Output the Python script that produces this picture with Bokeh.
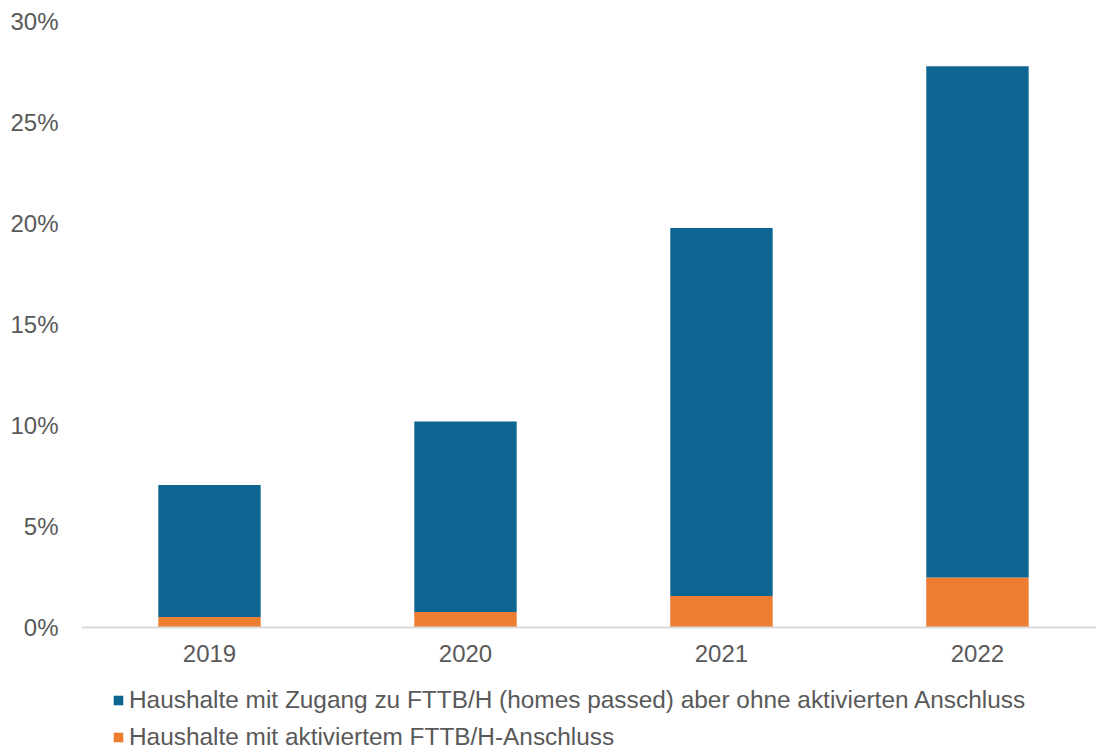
from bokeh.plotting import figure
from bokeh.models import (ColumnDataSource, Range1d, FixedTicker, PrintfTickFormatter,
                          Legend, LegendItem)
from bokeh.embed import file_html
from bokeh.resources import INLINE

years = ["2019", "2020", "2021", "2022"]
activated = [0.52, 0.77, 1.56, 2.48]          # Haushalte mit aktiviertem FTTB/H-Anschluss (%)
passed_only = [6.53, 9.43, 18.22, 25.30]      # homes passed ohne aktivierten Anschluss (%)
y_ticks = [0, 5, 10, 15, 20, 25, 30]
label_passed = "Haushalte mit Zugang zu FTTB/H (homes passed) aber ohne aktivierten Anschluss"
label_active = "Haushalte mit aktiviertem FTTB/H-Anschluss"

BLUE = "#0F6592"
ORANGE = "#ED7D31"
TXT = "#595959"
FONT = "Liberation Sans"
FS = "24px"

xpos = [i + 0.5 for i in range(len(years))]
src = ColumnDataSource(dict(x=xpos, year=years, activated=activated, passed=passed_only))

# frame reaches the bottom of the canvas; the space under 0 % holds the axis labels and the legend
p = figure(width=1096, height=753, output_backend="svg", toolbar_location=None,
           x_range=Range1d(0, 3.965), y_range=Range1d(-6.238, 30),
           min_border_left=81, min_border_right=0, min_border_top=21, min_border_bottom=0)
p.outline_line_color = None
p.background_fill_color = "white"
p.border_fill_color = "white"

r = p.vbar_stack(["activated", "passed"], x="x", width=0.4, source=src,
                 color=[ORANGE, BLUE], line_color=None)

p.xgrid.visible = False
p.ygrid.visible = False

# y axis
p.yaxis.ticker = FixedTicker(ticks=y_ticks)
p.yaxis.formatter = PrintfTickFormatter(format="%d%%")
p.yaxis.axis_line_color = None
p.yaxis.major_tick_line_color = None
p.yaxis.minor_tick_line_color = None
p.yaxis.major_tick_out = 0
p.yaxis.major_label_standoff = 23
p.yaxis.major_label_text_font = FONT
p.yaxis.major_label_text_font_size = FS
p.yaxis.major_label_text_color = TXT

# x axis, pinned at 0 %
p.xaxis.fixed_location = 0
p.xaxis.ticker = FixedTicker(ticks=xpos)
p.xaxis.major_label_overrides = {x: y for x, y in zip(xpos, years)}
p.xaxis.axis_line_color = "#D9D9D9"
p.xaxis.axis_line_width = 2
p.xaxis.major_tick_line_color = None
p.xaxis.minor_tick_line_color = None
p.xaxis.major_tick_out = 0
p.xaxis.major_label_standoff = 18
p.xaxis.major_label_text_font = FONT
p.xaxis.major_label_text_font_size = FS
p.xaxis.major_label_text_color = TXT

legend = Legend(items=[LegendItem(label=label_passed, renderers=[r[1]]),
                       LegendItem(label=label_active, renderers=[r[0]])],
                location=(31, 2), orientation="vertical",
                padding=0, spacing=9, margin=0,
                glyph_width=12, glyph_height=12, label_standoff=5, label_height=28,
                label_text_font=FONT, label_text_font_size="24.4px", label_text_color=TXT,
                background_fill_alpha=0, border_line_color=None)
p.add_layout(legend, "center")

open("out.html", "w").write(file_html(p, INLINE))
